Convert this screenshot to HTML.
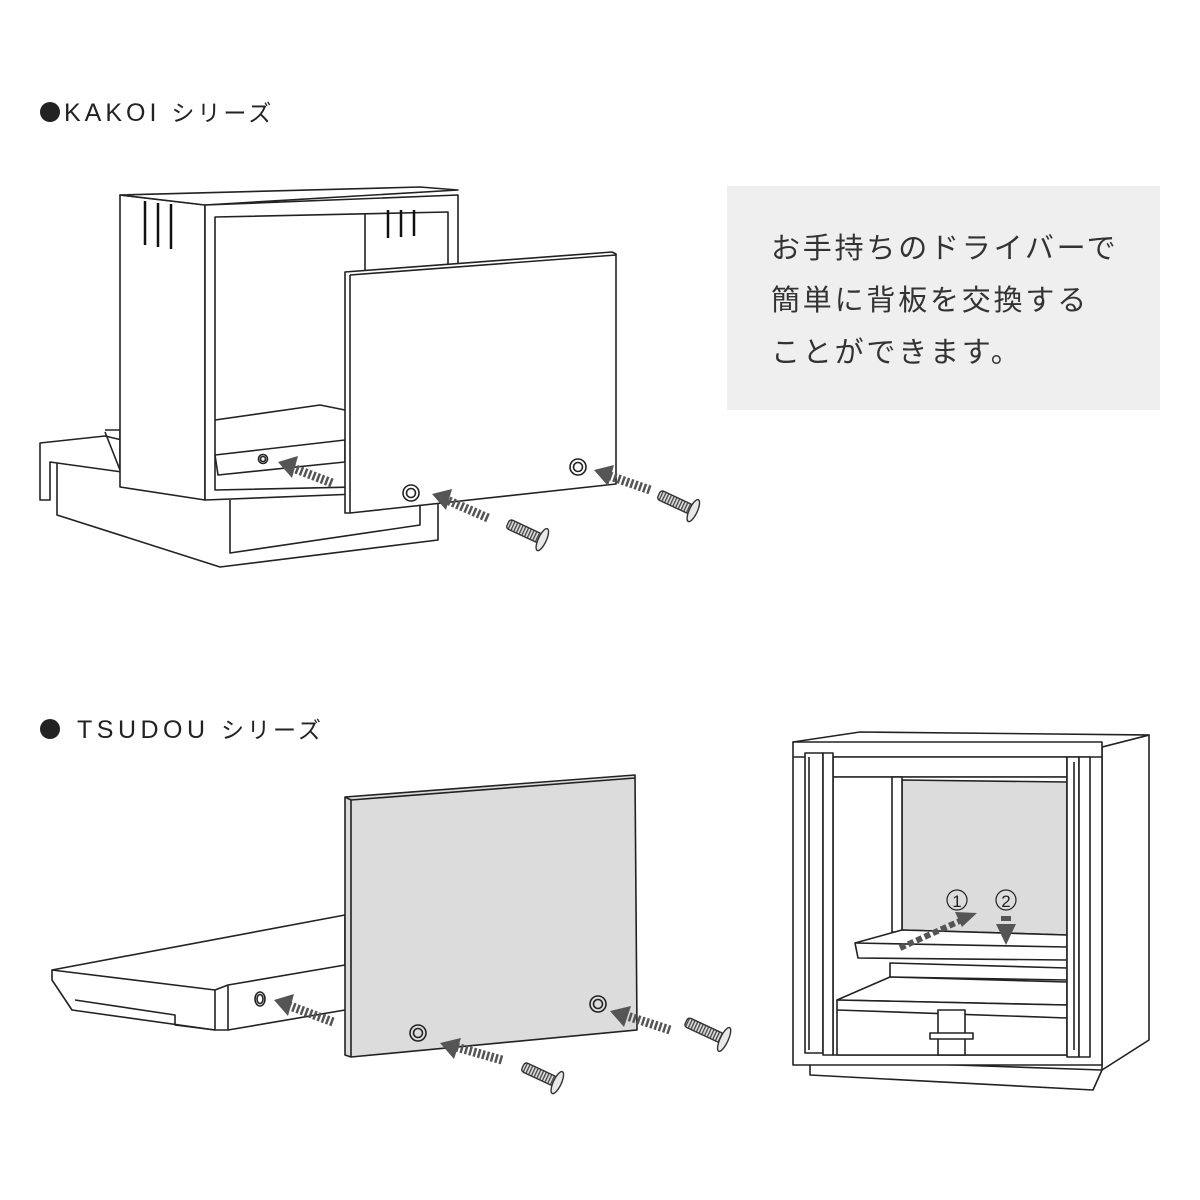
<!DOCTYPE html>
<html><head><meta charset="utf-8"><style>
body{margin:0;background:#fff;}
svg{display:block}
</style></head><body>
<svg width="1200" height="1200" viewBox="0 0 1200 1200" xmlns="http://www.w3.org/2000/svg">
<defs>
<pattern id="thr" width="3" height="10" patternUnits="userSpaceOnUse"><rect width="3" height="10" fill="#ddd"/><rect width="1.3" height="10" fill="#444"/></pattern>
</defs>
<circle cx="50" cy="112" r="10" fill="#222"/>
<circle cx="50" cy="729" r="10" fill="#222"/>
<g font-family="Liberation Sans, Noto Sans CJK JP, sans-serif" fill="#222">
<text x="64" y="121" font-size="25" letter-spacing="4">KAKOI <tspan font-size="23" letter-spacing="3">シリーズ</tspan></text>
<text x="77" y="738" font-size="25" letter-spacing="4.5">TSUDOU <tspan font-size="23" letter-spacing="3">シリーズ</tspan></text>
</g>
<rect x="727" y="186" width="433" height="224" fill="#efefef"/>
<g font-family="Liberation Sans, Noto Sans CJK JP, sans-serif" font-size="29" fill="#333" letter-spacing="2.8">
<text x="771" y="258">お手持ちのドライバーで</text>
<text x="771" y="310">簡単に背板を交換する</text>
<text x="771" y="362">ことができます。</text>
</g>

<!-- KAKOI -->
<g fill="#fff" stroke="#222" stroke-width="1.6" stroke-linejoin="round">
<polygon points="57,462 57,515 220,567 438,540 438,480 200,470"/>
<polyline points="230,500 230,553 420,525 420,500" fill="none"/>
<polygon points="40,443 105,436 122,440 122,472 50,462 50,500 40,500"/>
<polyline points="105,430 120,430 120,470" fill="none"/>
<line x1="105" y1="432" x2="120" y2="470"/>
<polygon points="120,195 205,205 205,500 120,487"/>
<polygon points="120,195 420,187 458,190 205,205"/>
<polygon points="205,205 458,195 458,490 205,500"/>
<polygon points="215,217 448,212 448,485 215,490"/>
<line x1="365" y1="214" x2="365" y2="290"/>
<polyline points="215,420 320,405 345,410" fill="none"/>
<polygon points="215,455 345,440 345,462 218,475"/>
<circle cx="263" cy="459" r="4.5"/>
<circle cx="263" cy="459" r="2.5"/>
</g>
<g stroke="#111" stroke-width="2.5">
<line x1="145" y1="201" x2="145" y2="245"/><line x1="158" y1="203" x2="158" y2="247"/><line x1="171" y1="204" x2="171" y2="249"/>
<line x1="388" y1="210" x2="388" y2="238"/><line x1="401" y1="210" x2="401" y2="237"/><line x1="414" y1="210" x2="414" y2="236"/>
</g>
<g fill="#fff" stroke="#222" stroke-width="1.6" stroke-linejoin="round">
<polygon points="345,272 612,252 616,254 616,484 350,513 345,513"/>
<polyline points="350,275 616,255" fill="none"/>
<line x1="350" y1="275" x2="350" y2="513"/>
<circle cx="411" cy="493" r="8"/><circle cx="411" cy="493" r="4.5"/>
<circle cx="578" cy="467" r="8"/><circle cx="578" cy="467" r="4.5"/>
</g>

<!-- TSUDOU shelf -->
<g fill="#fff" stroke="#222" stroke-width="1.6" stroke-linejoin="round">
<polygon points="52,970 345,915 345,965 228,985 228,1030 215,1030 72,1010 52,980"/>
<polyline points="52,970 215,990 228,985" fill="none"/>
<line x1="215" y1="990" x2="215" y2="1030"/>
<polyline points="75,1000 175,1015 175,1025 215,1030" fill="none"/>
<line x1="228" y1="1030" x2="345" y2="1010"/>
<ellipse cx="260" cy="999" rx="5" ry="7"/>
<ellipse cx="260" cy="999" rx="3" ry="4.5"/>
<polygon points="345,797 635,775 637,1030 351,1057 345,1055" fill="#dcdcdc" stroke="#222"/>
<polyline points="345,797 351,800 351,1057" fill="none"/>
<line x1="351" y1="800" x2="635" y2="778"/>
<circle cx="418" cy="1033" r="8" fill="#dcdcdc"/><circle cx="418" cy="1033" r="4.5" fill="#dcdcdc"/>
<circle cx="598" cy="1004" r="8" fill="#dcdcdc"/><circle cx="598" cy="1004" r="4.5" fill="#dcdcdc"/>
</g>

<g stroke="#555" stroke-width="9" stroke-dasharray="2.5 2" fill="none">
<line x1="332" y1="483" x2="293" y2="468"/>
<line x1="488" y1="518" x2="447" y2="500"/>
<line x1="650" y1="490" x2="610" y2="476"/>
<line x1="333" y1="1022" x2="290" y2="1006"/>
<line x1="502" y1="1060" x2="456" y2="1047"/>
<line x1="670" y1="1030" x2="627" y2="1016"/>
</g>
<g fill="#555">
<polygon points="278,462 298,456 292,478"/>
<polygon points="432,494 452,489 446,510"/>
<polygon points="594,470 614,465 608,486"/>
<polygon points="274,1000 294,994 288,1016"/>
<polygon points="440,1043 461,1038 454,1059"/>
<polygon points="610,1011 631,1006 624,1027"/>
</g>
<g stroke="#333" stroke-width="1.4" fill="#e8e8e8">
<g transform="translate(526,532) rotate(25)"><rect x="-20" y="-5" width="36" height="10" rx="3" fill="url(#thr)"/><ellipse cx="18" cy="0" rx="4" ry="12"/></g>
<g transform="translate(677,503) rotate(25)"><rect x="-20" y="-5" width="36" height="10" rx="3" fill="url(#thr)"/><ellipse cx="18" cy="0" rx="4" ry="12"/></g>
<g transform="translate(541,1075) rotate(25)"><rect x="-20" y="-5" width="36" height="10" rx="3" fill="url(#thr)"/><ellipse cx="18" cy="0" rx="4" ry="12"/></g>
<g transform="translate(706,1031) rotate(25)"><rect x="-22" y="-5" width="40" height="10" rx="3" fill="url(#thr)"/><ellipse cx="20" cy="0" rx="4" ry="13"/></g>
</g>

<!-- TSUDOU cabinet -->
<g fill="#fff" stroke="#222" stroke-width="1.6" stroke-linejoin="round">
<polygon points="810,1060 810,1075 1093,1090 1102,1070"/>
<polygon points="1102,747 1149,735 1149,1040 1102,1070"/>
<polygon points="793,742 860,732 1149,735 1102,747"/>
<rect x="793" y="742" width="309" height="323"/>
<line x1="793" y1="757" x2="1102" y2="757"/>
<rect x="833" y="757" width="234" height="20"/>
<rect x="833" y="777" width="234" height="278" />
<polygon points="902,780 1067,782 1067,935 902,930" fill="#dcdcdc"/>
<rect x="892" y="777" width="10" height="155"/>
<polygon points="855,943 902,930 1067,935 1067,960 858,958"/>
<line x1="855" y1="943" x2="1067" y2="947"/>
<polygon points="890,963 1067,968 1067,980 890,977"/>
<polygon points="837,1000 890,977 1067,982 1067,1005"/>
<polygon points="837,1000 1067,1005 1067,1055 837,1055"/>
<line x1="837" y1="1010" x2="1067" y2="1018"/>
<rect x="938" y="1010" width="27" height="45"/>
<rect x="930" y="1033" width="43" height="6"/>
<rect x="805" y="753" width="18" height="300"/>
<rect x="823" y="753" width="10" height="302"/>
<line x1="809" y1="757" x2="809" y2="1050"/>
<rect x="1067" y="757" width="12" height="300"/>
<rect x="1079" y="757" width="11" height="300"/>
<line x1="1074" y1="762" x2="1074" y2="1050"/>
</g>
<g font-family="Liberation Sans, DejaVu Sans, sans-serif" fill="#222">
<circle cx="957" cy="900" r="10" fill="none" stroke="#222" stroke-width="1.2"/>
<text x="957" y="907" font-size="17" text-anchor="middle">1</text>
<circle cx="1006" cy="900" r="10" fill="none" stroke="#222" stroke-width="1.2"/>
<text x="1006" y="907" font-size="17" text-anchor="middle">2</text>
</g>
<line x1="900" y1="948" x2="962" y2="920" stroke="#555" stroke-width="6" stroke-dasharray="6 3"/>
<polygon points="977,913 955,912 962,927" fill="#555"/>
<rect x="1001" y="916" width="10" height="5" fill="#555"/>
<polygon points="996,924 1016,924 1006,945" fill="#555"/>
</svg>
</body></html>
